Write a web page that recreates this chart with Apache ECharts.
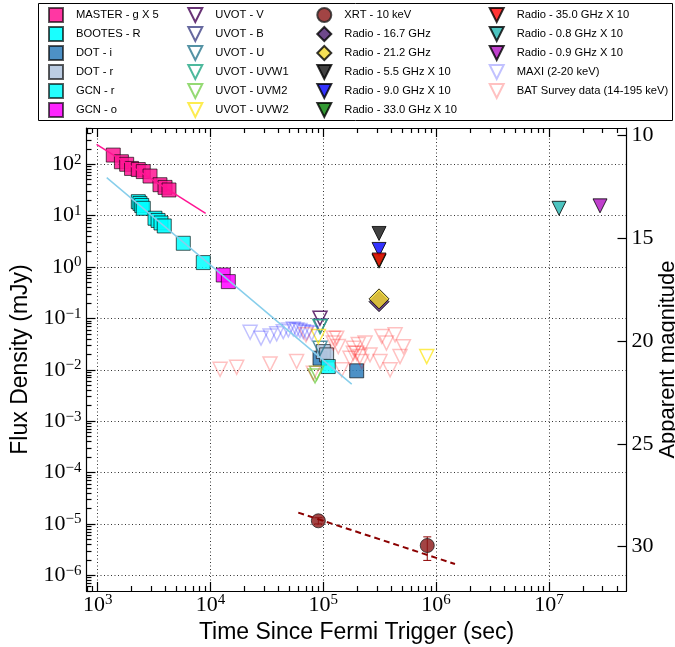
<!DOCTYPE html>
<html><head><meta charset="utf-8">
<script src="https://cdn.jsdelivr.net/npm/echarts@6/dist/echarts.min.js"></script>
<style>html,body{margin:0;padding:0;background:#fff}#c{width:675px;height:647px}</style>
</head><body><div id="c"></div>
<script>
// ---- data (time in s, flux density in mJy) ----
const masterG = [[1374,151],[1622,112],[1807,100],[1995,83],[2291,79],[2535,72],[2911,59],[3565,40],[3954,35.5],[4285,31.6]];
const bootesR = [[2291,18.7],[2371,17.3],[2455,15.8],[2535,13.9],[3220,8.9],[3428,8.07],[3640,7.2],[3890,6.3]];
const dotI = [[93500,0.0168],[197700,0.00955]];
const dotR = [[100000,0.0226],[107000,0.0195]];
const gcnR = [[5740,2.9],[8630,1.22],[110700,0.01156]];
const gcnO = [[12970,0.70],[14390,0.52]];
const uvotV = [[93500,0.101]];
const uvotB = [[94400,0.0714]];
const uvotU = [[93500,0.0263]];
const uvotUVW1 = [[93500,0.069]];
const uvotUVM2 = [[87300,0.0086],[84500,0.0076]];
const uvotUVW2 = [[90400,0.0443],[826000,0.0181]];
const xrt = [[90400,1.15e-5],[835000,3.8e-6]];
const xrtErr = [[90400,1.0e-5,1.32e-5],[835000,1.95e-6,5.6e-6]];
const radio167 = [[312000,0.212]];
const radio212 = [[312000,0.24]];
const radio55 = [[312000,4.5]];
const radio90 = [[312000,2.2]];
const radio330 = [[312000,1.3]];
const radio350 = [[312000,1.37]];
const radio08 = [[12300000,13.9]];
const radio09 = [[28400000,15.5]];
const maxi = [[22440,0.0537],[28050,0.0412],[33730,0.0457],[38640,0.0501],[44160,0.0553],[49000,0.0597],[54200,0.0625],[58100,0.0597],[62100,0.058],[66500,0.0553],[71300,0.053],[78900,0.0513]];
const bat = [[12160,0.0102],[17060,0.0112],[33700,0.013],[58000,0.0145],[81500,0.0086],[70300,0.0479],[122700,0.0331],[122700,0.0412],[184500,0.0263],[234400,0.0331],[330000,0.0447],[433000,0.0479],[513000,0.0282],[363000,0.0331],[197700,0.021],[259400,0.0195],[172600,0.0168],[318000,0.0145],[391000,0.0100],[145500,0.0100],[219000,0.0145],[479000,0.0181],[204000,0.0309],[131500,0.0412],[135800,0.0283],[184500,0.021],[211000,0.0181]];
const masterFit = [[977,245],[9060,11.1]];
const opticalFit = [[1202,55],[178600,0.00525]];
const xrtFit = [[60000,1.66e-5],[1470000,1.66e-6]];

// ---- axes / ticks ----
const xRange = [795.6, 4.875e7];
const yRange = [4.95e-7, 508];
const xMajorExp = [3,4,5,6,7];
const yMajorExp = [-6,-5,-4,-3,-2,-1,0,1,2];
const magTicks = [10,15,20,25,30];
const ABZP = Math.log10(3631e3); // mJy zero point of AB magnitudes

const lg = Math.log10;
const xMin = lg(xRange[0]), xMax = lg(xRange[1]);
const yMin = lg(yRange[0]), yMax = lg(yRange[1]);
const magMin = (ABZP - yMax) / 0.4, magMax = (ABZP - yMin) / 0.4;
function minors(lo, hi){ const r=[]; for(let n=-8;n<9;n++){ for(let k=2;k<10;k++){ const v=lg(k)+n; if(v>lo && v<hi) r.push(v);} } return r; }
const xMinor = minors(xMin, xMax), yMinor = minors(yMin, yMax);

const serif = 'Liberation Serif', sans = 'Liberation Sans';
const rich = { b:{fontFamily:serif,fontSize:22,lineHeight:24,color:'#000'}, s:{fontFamily:serif,fontSize:15,lineHeight:15,verticalAlign:'top',color:'#000'} };
function expLabel(v){ const e=Math.round(v); return '{b|10}{s|'+(e<0?'\u2212'+(-e):e)+'}'; }
const axLine = {show:true,onZero:false,lineStyle:{color:'#000',width:1.2}};
const grid = {show:true,lineStyle:{color:'#333',width:1,type:[1,2.5]}};
const tickStyle = {color:'#000',width:1.2};
const titleStyle = {fontFamily:sans,fontSize:23,color:'#000'};
function majorX(pos, labels){ return {type:'value',position:pos,min:xMin,max:xMax,axisLine:axLine,
  axisTick:{show:true,inside:true,length:9,customValues:xMajorExp,lineStyle:tickStyle},
  axisLabel:{show:labels,customValues:xMajorExp,formatter:expLabel,rich:rich,margin:2},
  splitLine:labels?grid:{show:false}}; }
function minorX(pos){ return {type:'value',position:pos,min:xMin,max:xMax,axisLine:{show:false,onZero:false},
  axisTick:{show:true,inside:true,length:5,customValues:xMinor,lineStyle:tickStyle},
  axisLabel:{show:false},splitLine:{show:false}}; }

const L = p => [lg(p[0]), lg(p[1])];
const edge = 'rgba(0,0,0,0.75)';
function sq(name, data, color, op){ return {type:'scatter',name,data:data.map(L),symbol:'rect',symbolSize:14,
  itemStyle:{color,borderColor:edge,borderWidth:1,opacity:op||0.85}}; }
function tri(name, data, color, filled, size){ return {type:'scatter',name,data:data.map(L),symbol:'triangle',symbolRotate:180,symbolSize:size||14,
  itemStyle: filled ? {color,borderColor:'#000',borderWidth:1} : {color:'rgba(0,0,0,0)',borderColor:color,borderWidth:1.5}}; }
function dia(name, data, color){ return {type:'scatter',name,data:data.map(L),symbol:'diamond',symbolSize:20,
  itemStyle:{color,borderColor:'#000',borderWidth:1}}; }
function fit(data, color, width, type){ return {type:'line',data:data.map(L),showSymbol:false,symbol:'none',silent:true,
  lineStyle:{color,width,type:type||'solid'}}; }

const series = [
  fit(masterFit,'#ff1493',1.5),
  fit(opticalFit,'#87ceeb',1.5),
  sq('MASTER - g X 5', masterG, '#ff1493'),
  sq('BOOTES - R', bootesR, '#00ffff', 0.9),
  sq('DOT - i', dotI, '#2e7ebc'),
  sq('DOT - r', dotR, '#b0c4de'),
  sq('GCN - r', gcnR, '#00ffff'),
  sq('GCN - o', gcnO, '#ff00ff'),
  tri('UVOT - V', uvotV, '#440154'),
  tri('UVOT - B', uvotB, '#414487'),
  tri('UVOT - U', uvotU, '#2a788e'),
  tri('UVOT - UVW1', uvotUVW1, '#22a884'),
  tri('UVOT - UVM2', uvotUVM2, '#7ad151'),
  tri('UVOT - UVW2', uvotUVW2, '#fde725'),
  fit(xrtFit,'#8b0000',2,[6,4]),
  {type:'custom',name:'xrtErr',silent:true,data:xrtErr.map(e=>[lg(e[0]),lg(e[1]),lg(e[2])]),encode:{x:0,y:[1,2]},
    renderItem:(params, api)=>{ const lo=api.coord([api.value(0),api.value(1)]), hi=api.coord([api.value(0),api.value(2)]); const w=4;
      const st={stroke:'#8b0000',lineWidth:1};
      return {type:'group',children:[
        {type:'line',shape:{x1:lo[0],y1:lo[1],x2:hi[0],y2:hi[1]},style:st},
        {type:'line',shape:{x1:lo[0]-w,y1:lo[1],x2:lo[0]+w,y2:lo[1]},style:st},
        {type:'line',shape:{x1:hi[0]-w,y1:hi[1],x2:hi[0]+w,y2:hi[1]},style:st}]}; }},
  {type:'scatter',name:'XRT - 10 keV',data:xrt.map(L),symbol:'circle',symbolSize:14,itemStyle:{color:'#8b1515',borderColor:'#222',borderWidth:1}},
  dia('Radio - 16.7 GHz', radio167, '#4a1a6e'),
  dia('Radio - 21.2 GHz', radio212, '#f2d82a'),
  tri('Radio - 5.5 GHz X 10', radio55, '#111111', true),
  tri('Radio - 9.0 GHz X 10', radio90, '#0000ff', true),
  tri('Radio - 33.0 GHz X 10', radio330, '#008000', true),
  tri('Radio - 35.0 GHz X 10', radio350, '#ff0000', true),
  tri('Radio - 0.8 GHz X 10', radio08, '#1fb5b0', true),
  tri('Radio - 0.9 GHz X 10', radio09, '#b010c0', true),
  tri('MAXI (2-20 keV)', maxi, 'rgba(0,0,255,0.3)'),
  tri('BAT Survey data (14-195 keV)', bat, 'rgba(255,0,0,0.3)')
];

const col1 = ['MASTER - g X 5','BOOTES - R','DOT - i','DOT - r','GCN - r','GCN - o'];
const col2 = ['UVOT - V','UVOT - B','UVOT - U','UVOT - UVW1','UVOT - UVM2','UVOT - UVW2'];
const col3 = ['XRT - 10 keV','Radio - 16.7 GHz','Radio - 21.2 GHz','Radio - 5.5 GHz X 10','Radio - 9.0 GHz X 10','Radio - 33.0 GHz X 10'];
const col4 = ['Radio - 35.0 GHz X 10','Radio - 0.8 GHz X 10','Radio - 0.9 GHz X 10','MAXI (2-20 keV)','BAT Survey data (14-195 keV)'];
const icons = {triangle:'path://M0,0L20,0L10,20Z', rect:'path://M0,0L10,0L10,10L0,10Z', diamond:'path://M5,0L10,5L5,10L0,5Z'};
const symOf = {}; series.forEach(s => { if (s.name && s.symbol) symOf[s.name] = s.symbol; });
function leg(left, names){ return {left,top:7,orient:'vertical',itemWidth:30,itemHeight:14,itemGap:3,padding:0,selectedMode:false,
  data: names.map(n => icons[symOf[n]] ? {name:n, icon:icons[symOf[n]]} : {name:n}),
  textStyle:{fontFamily:sans,fontSize:11.2,lineHeight:14,color:'#000'}}; }

const chart = echarts.init(document.getElementById('c'), null, {renderer:'canvas'});
chart.setOption({
  animation:false,
  backgroundColor:'#fff',
  grid:{left:86.5,right:48.5,top:128,bottom:56,containLabel:false,outerBoundsMode:'none'},
  legend:[leg(48,col1),leg(187.3,col2),leg(316.3,col3),leg(488.7,col4)],
  graphic:[{type:'rect',shape:{x:38.5,y:3.5,width:634,height:117},style:{fill:'none',stroke:'#000',lineWidth:1},silent:true}],
  xAxis:[
    Object.assign(majorX('bottom',true),{name:'Time Since Fermi Trigger (sec)',nameLocation:'middle',nameGap:27,nameTextStyle:titleStyle}),
    minorX('bottom'), majorX('top',false), minorX('top')
  ],
  yAxis:[
    {type:'value',position:'left',min:yMin,max:yMax,axisLine:axLine,
      axisTick:{show:true,inside:true,length:9,customValues:yMajorExp,lineStyle:tickStyle},
      axisLabel:{customValues:yMajorExp,formatter:expLabel,rich:rich,margin:5},
      splitLine:grid,
      name:'Flux Density (mJy)',nameLocation:'middle',nameGap:52,nameRotate:90,nameTextStyle:titleStyle},
    {type:'value',position:'left',min:yMin,max:yMax,axisLine:{show:false,onZero:false},
      axisTick:{show:true,inside:true,length:5,customValues:yMinor,lineStyle:tickStyle},axisLabel:{show:false},splitLine:{show:false}},
    {type:'value',position:'right',inverse:true,min:magMin,max:magMax,axisLine:axLine,
      axisTick:{show:true,inside:true,length:9,customValues:magTicks,lineStyle:tickStyle},
      axisLabel:{customValues:magTicks,margin:5,fontFamily:serif,fontSize:22,color:'#000'},
      splitLine:{show:false},
      name:'Apparent magnitude',nameLocation:'middle',nameGap:30,nameRotate:90,nameMoveOverlap:false,
      nameTextStyle:{fontFamily:sans,fontSize:22,color:'#000'}}
  ],
  series: series
});
</script></body></html>
